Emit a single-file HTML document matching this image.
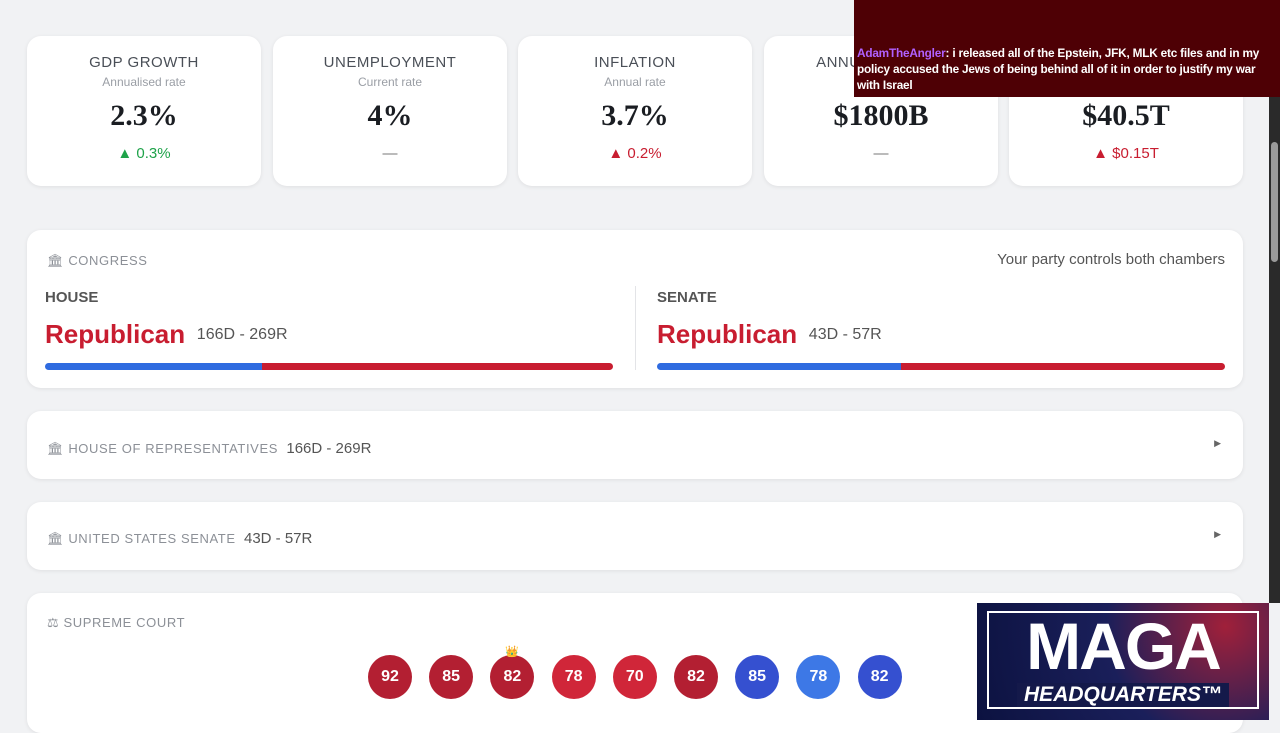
<!DOCTYPE html>
<html><head><meta charset="utf-8"><style>
*{box-sizing:border-box;margin:0;padding:0}
body{width:1280px;height:720px;overflow:hidden;background:#f1f2f4;font-family:"Liberation Sans",sans-serif;position:relative}
.card{position:absolute;background:#fff;border-radius:14px;box-shadow:0 1px 4px rgba(0,0,0,.08)}
.stat{top:36px;width:234px;height:150px;text-align:center}
.stat .t{margin-top:18px;font-size:15px;letter-spacing:.5px;color:#4a4f57}
.stat .s{font-size:12px;color:#9a9ea5;margin-top:4px}
.stat .v{font-family:"Liberation Serif",serif;font-size:30px;color:#1a1d22;margin-top:10px;font-weight:bold}
.stat .d{font-size:15px;margin-top:12px}
.g{color:#1fa34a}.r{color:#c81d30}.n{color:#777}
.lbl{position:absolute;font-size:13px;letter-spacing:.6px;color:#8c9097}
.bar{position:absolute;height:7px;border-radius:4px;overflow:hidden;display:flex}
.circ{position:absolute;width:44px;height:44px;border-radius:50%;color:#fff;font-weight:bold;font-size:16px;text-align:center;line-height:44px}
</style></head><body>
<div class="card stat" style="left:27px"><div class="t">GDP GROWTH</div><div class="s">Annualised rate</div><div class="v">2.3%</div><div class="d g">▲ 0.3%</div></div>
<div class="card stat" style="left:273px"><div class="t">UNEMPLOYMENT</div><div class="s">Current rate</div><div class="v">4%</div><div class="d n">—</div></div>
<div class="card stat" style="left:518px"><div class="t">INFLATION</div><div class="s">Annual rate</div><div class="v">3.7%</div><div class="d r">▲ 0.2%</div></div>
<div class="card stat" style="left:764px"><div class="t">ANNUAL DEFICIT</div><div class="s">Federal</div><div class="v">$1800B</div><div class="d n">—</div></div>
<div class="card stat" style="left:1009px"><div class="t">NATIONAL DEBT</div><div class="s">Total</div><div class="v">$40.5T</div><div class="d r">▲ $0.15T</div></div>

<div class="card" style="left:27px;top:230px;width:1216px;height:158px">
<div class="lbl" style="left:20px;top:23px">🏛 CONGRESS</div>
<div style="position:absolute;right:18px;top:21px;font-size:15px;color:#555">Your party controls both chambers</div>
<div style="position:absolute;left:18px;top:59px;font-size:15px;font-weight:bold;color:#555">HOUSE</div>
<div style="position:absolute;left:18px;top:89px;font-size:26px;font-weight:bold;color:#c81d30">Republican <span style="font-size:16px;font-weight:normal;color:#555;vertical-align:4px">&nbsp;166D - 269R</span></div>
<div style="position:absolute;left:608px;top:56px;width:1px;height:84px;background:#e3e4e7"></div>
<div style="position:absolute;left:630px;top:59px;font-size:15px;font-weight:bold;color:#555">SENATE</div>
<div style="position:absolute;left:630px;top:89px;font-size:26px;font-weight:bold;color:#c81d30">Republican <span style="font-size:16px;font-weight:normal;color:#555;vertical-align:4px">&nbsp;43D - 57R</span></div>
<div class="bar" id="hbar" style="left:18px;top:133px;width:568px"></div>
<div class="bar" id="sbar" style="left:630px;top:133px;width:568px"></div>
</div>

<div class="card" style="left:27px;top:411px;width:1216px;height:68px">
<div class="lbl" style="left:20px;top:29px">🏛 HOUSE OF REPRESENTATIVES <span style="color:#555;font-size:15px;letter-spacing:0">&nbsp;166D - 269R</span></div>
<div style="position:absolute;right:22px;top:27px;font-size:9px;color:#666">▶</div></div>
<div class="card" style="left:27px;top:502px;width:1216px;height:68px">
<div class="lbl" style="left:20px;top:28px">🏛 UNITED STATES SENATE <span style="color:#555;font-size:15px;letter-spacing:0">&nbsp;43D - 57R</span></div>
<div style="position:absolute;right:22px;top:27px;font-size:9px;color:#666">▶</div></div>
<div class="card" id="court" style="left:27px;top:593px;width:1216px;height:140px">
<div class="lbl" style="left:20px;top:22px">⚖ SUPREME COURT</div></div>

<div style="position:absolute;left:854px;top:0;width:426px;height:97px;background:#4e0005">
<div style="position:absolute;left:3px;top:45px;width:418px;font-size:11.8px;font-weight:bold;color:#fff;line-height:16px;letter-spacing:-0.2px"><span style="color:#b060ff">AdamTheAngler</span>: i released all of the Epstein, JFK, MLK etc files and in my policy accused the Jews of being behind all of it in order to justify my war with Israel</div></div>
<div style="position:absolute;left:977px;top:603px;width:292px;height:117px;background:radial-gradient(circle at 85% 20%,#a0203a,#1a1f5a 45%,#0c1240)">
<div style="position:absolute;left:10px;top:8px;width:272px;height:98px;border:2px solid #fff"></div>
<div style="position:absolute;left:0;width:292px;top:6px;text-align:center;color:#fff;font-weight:bold;font-size:66px;line-height:74px;letter-spacing:-2px">MAGA</div>
<div style="position:absolute;left:40px;width:212px;top:80px;background:#14194a;text-align:center;color:#fff;font-weight:bold;font-style:italic;font-size:21px">HEADQUARTERS™</div></div>
<div style="position:absolute;left:1269px;top:97px;width:11px;height:506px;background:#2a2a2a"><div style="margin:45px 2px;height:120px;background:#9a9a9a;border-radius:4px"></div></div>
<script>
const houseSeats=[166,269];
const senateSeats=[43,57];
const courtScores=[92,85,82,78,70,82,85,78,82];
const courtParty=["R","R","R","R","R","R","D","D","D"];
const courtShade=[0,0,0,1,1,0,0,1,0];
const partyColors=["#2f6be0","#c81d30"];
function fillBar(id,seats,name){
  const el=document.getElementById(id);const tot=seats[0]+seats[1];
  seats.forEach((s,i)=>{const d=document.createElement('div');
    d.style.width=(s/tot*100)+'%';d.style.background=partyColors[i];
    
    el.appendChild(d);});
}
fillBar('hbar',houseSeats,'house-bar');
fillBar('sbar',senateSeats,'senate-bar');
const court=document.getElementById('court');
const cx=i=>341+i*61.2;
courtScores.forEach((v,i)=>{const c=document.createElement('div');c.className='circ';
  c.style.left=cx(i)+'px';c.style.top='62px';
  const R=courtParty[i]==='R';
  c.style.background=R?(courtShade[i]?'#d02639':'#b31f32'):(courtShade[i]?'#3d78e6':'#3550d0');
  c.textContent=v;
  
  
  court.appendChild(c);
  if(i===2){const k=document.createElement('div');k.textContent='👑';k.style.cssText='position:absolute;font-size:11px;left:'+(cx(i)+15)+'px;top:52px';
    
    court.appendChild(k);}
});
</script>
</body></html>
